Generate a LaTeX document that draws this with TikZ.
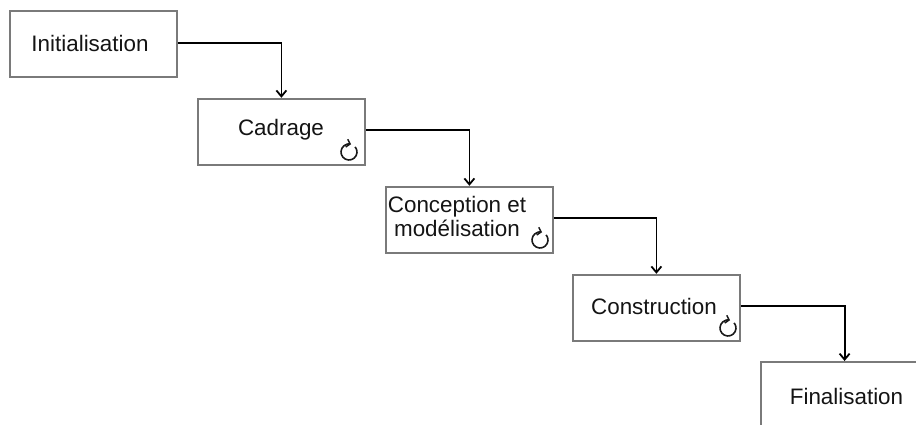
\documentclass[tikz,border=0pt]{standalone}
\usepackage{fontspec}
\setmainfont{Liberation Sans}
\usetikzlibrary{arrows.meta}
\tikzset{
  phase/.style={draw=black!52,line width=1.8pt,minimum width=167pt,minimum height=66pt,inner sep=0pt,anchor=north west},
  lbl/.style={font=\fontsize{22.4}{25}\selectfont,text=black!92,inner sep=0pt,align=center},
  flow/.style={draw=black,line width=1.8pt,-{Straight Barb[length=6pt,width=10pt,line width=1.8pt]}},
  cyc/.style={draw=black!90,line width=1.6pt,-{Straight Barb[length=3.5pt,width=8pt,line width=1.5pt]}}
}
\newcommand{\cycleicon}[1]{\draw[cyc] ([shift={(40:8pt)}]#1) arc[start angle=40,end angle=-285,radius=8pt];}
\begin{document}
\begin{tikzpicture}[x=1pt,y=-1pt]
\useasboundingbox (0,0) rectangle (916,425);
\clip (0,0) rectangle (916,425);
\node[phase] (a) at (9.3,9.8) {};
\node[phase] (b) at (197,97.8) {};
\node[phase] (c) at (385,185.8) {};
\node[phase] (d) at (572,273.8) {};
\node[phase,minimum width=168pt] (e) at (759.7,361) {};
\node[lbl] (ta) at (90,43.5) {Initialisation};
\node[lbl] (tb) at (281,130) {Cadrage};
\node[lbl] (tc) at (457,216.5) {Conception et\\[-1pt]modélisation};
\node[lbl] (td) at (654,306) {Construction};
\node[lbl] (te) at (846.5,396.5) {Finalisation};
\draw[flow] ([yshift=1pt]a.east) -| (b.north);
\draw[flow] ([yshift=2pt]b.east) -| (c.north);
\draw[flow] ([yshift=2pt]c.east) -| (d.north);
\draw[flow] ([yshift=2pt]d.east) -| (e.north);
\coordinate (ib) at (349,152);
\coordinate (ic) at (540,240);
\coordinate (id) at (728,328);
\cycleicon{ib}
\cycleicon{ic}
\cycleicon{id}
\end{tikzpicture}
\end{document}
